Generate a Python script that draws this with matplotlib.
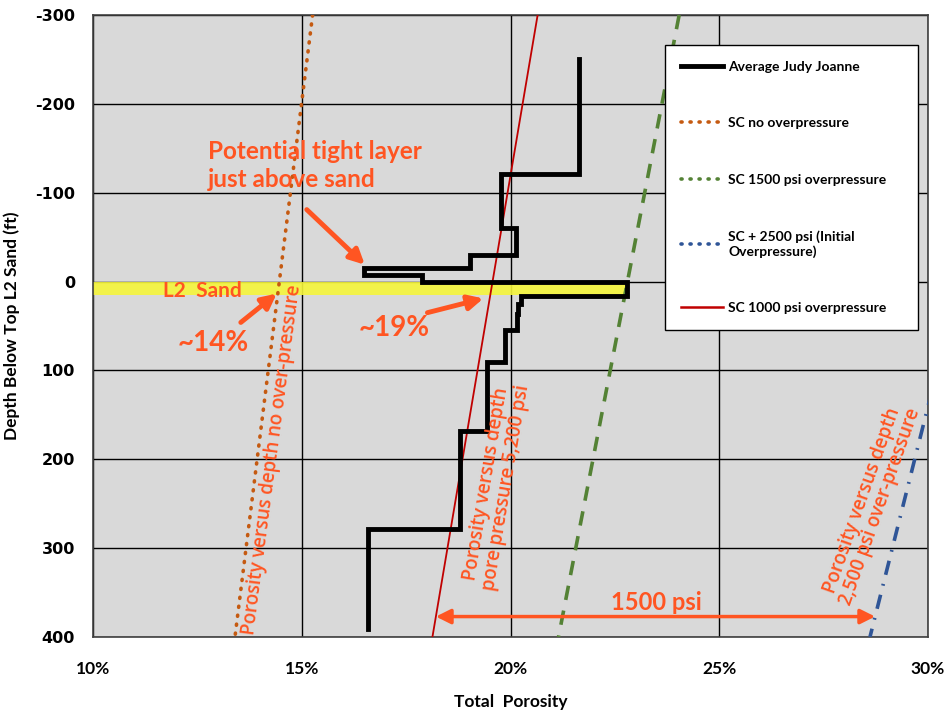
import matplotlib
matplotlib.use('Agg')
import matplotlib.pyplot as plt
from matplotlib.lines import Line2D
from matplotlib.ticker import PercentFormatter, MultipleLocator
import numpy as np

plt.rcParams['axes.unicode_minus'] = False

# Average Judy Joanne log: porosity (%) per interval, interval tops (ft)
avg_tops = [-250, -121, -60, -30, -15, -7, 0, 16, 25, 37, 54, 91, 168, 279]
avg_phi = [21.63, 19.78, 20.14, 19.02, 16.48, 17.87, 22.78, 20.24, 20.18,
           20.15, 19.88, 19.43, 18.80, 16.58]
avg_base = 391

# compaction trends, porosity (%) at depth -300 ft and 400 ft
trend_depth = [-300, 400]
sc_no_op = [15.26, 13.40]
sc_1000 = [20.65, 18.13]
sc_1500 = [24.04, 21.15]
sc_2500 = [32.36, 28.61]

# L2 sand interval
sand_top, sand_base, sand_phi = 0, 15, 22.75

arrow_depth = 377

ORANGE = '#ff5522'
C_NO = '#c55a11'
C_1500 = '#548235'
C_2500 = '#2f5597'
C_1000 = '#c00000'

fig = plt.figure(figsize=(9.48, 7.15), dpi=100)
ax = fig.add_axes([93/948, 1-637/715, 835/948, 622/715])
ax.set_facecolor('#d9d9d9')

# build the stepped log
y_steps = []
for i, top in enumerate(avg_tops):
    bot = avg_tops[i+1] if i + 1 < len(avg_tops) else avg_base
    y_steps += [top, bot]
x_steps = np.repeat(avg_phi, 2)

ax.fill_betweenx([sand_top, sand_base], 10, sand_phi, color='#f5f53a',
                 alpha=0.9, lw=0, zorder=2)

ax.plot(sc_no_op, trend_depth, color=C_NO, lw=2.6, ls=(0, (0.3, 2.2)),
        dash_capstyle='round', zorder=3)
ax.plot(sc_1500, trend_depth, color=C_1500, lw=2.6, ls=(0, (4, 3)), zorder=3)
ax.plot(sc_2500, trend_depth, color=C_2500, lw=2.6,
        ls=(0, (4, 2.6, 0.5, 2.6)), zorder=3)
ax.plot(sc_1000, trend_depth, color=C_1000, lw=1.3, zorder=3)
ax.plot(x_steps, y_steps, color='black', lw=3.5, solid_joinstyle='miter', zorder=4)

ax.set_xlim(10, 30)
ax.set_ylim(400, -300)
ax.xaxis.set_major_locator(MultipleLocator(5))
ax.yaxis.set_major_locator(MultipleLocator(100))
ax.xaxis.set_major_formatter(PercentFormatter(100, decimals=0))
ax.grid(True, color='black', lw=1.0, zorder=1)
ax.set_axisbelow(True)
for s in ax.spines.values():
    s.set_color('#404040')
    s.set_linewidth(1.2)

ax.tick_params(axis='y', length=0, pad=13)
ax.tick_params(axis='x', length=0, pad=17)
for lb in ax.get_yticklabels():
    lb.set_fontfamily('DejaVu Sans')
    lb.set_fontweight('bold')
    lb.set_fontsize(11.5)
for lb in ax.get_xticklabels():
    lb.set_fontfamily('Lato')
    lb.set_fontweight('bold')
    lb.set_fontsize(12.5)

ax.set_xlabel('Total  Porosity', fontfamily='Lato', fontweight='bold',
              fontsize=12.5, va='center')
ax.set_ylabel('Depth Below Top L2 Sand (ft)', fontfamily='Lato',
              fontweight='bold', fontsize=12.5)
ax.xaxis.set_label_coords(0.5, -0.104)
ax.yaxis.set_label_coords(-0.087, 0.5)

# annotations
ax.text(12.75, -131, 'Potential tight layer\njust above sand', color=ORANGE,
        fontfamily='Lato', fontweight='bold', fontsize=17.5, ha='left',
        va='center', linespacing=1.25, zorder=5)
ax.text(11.68, 11, 'L2  Sand', color=ORANGE, fontfamily='Lato',
        fontweight='bold', fontsize=15, ha='left', va='center', zorder=5)
ax.text(12.87, 69, '~14%', color=ORANGE, fontfamily='Lato',
        fontweight='bold', fontsize=20, ha='center', va='center', zorder=5)
ax.text(17.22, 52, '~19%', color=ORANGE, fontfamily='Lato',
        fontweight='bold', fontsize=20, ha='center', va='center', zorder=5)
ax.text(23.5, 361, '1500 psi', color=ORANGE, fontfamily='Lato',
        fontweight='bold', fontsize=17, ha='center', va='center', zorder=5)

arrow_kw = dict(arrowstyle='-|>', color=ORANGE, lw=3.5, mutation_scale=22,
                shrinkA=0, shrinkB=0)
ax.annotate('', xy=(16.51, -19), xytext=(15.12, -81), arrowprops=arrow_kw, zorder=5)
ax.annotate('', xy=(14.40, 13.5), xytext=(13.54, 46), arrowprops=arrow_kw, zorder=5)
ax.annotate('', xy=(19.35, 19), xytext=(18.01, 35), arrowprops=arrow_kw, zorder=5)

x_left = np.interp(arrow_depth, trend_depth, sc_1000)
x_right = np.interp(arrow_depth, trend_depth, sc_2500)
ax.annotate('', xy=(x_right, arrow_depth), xytext=(x_left, arrow_depth),
            arrowprops=dict(arrowstyle='<|-|>', color=ORANGE, lw=2.5,
                            mutation_scale=22, shrinkA=0, shrinkB=0), zorder=5)

rot_kw = dict(color=ORANGE, fontfamily='Open Sans', fontweight=600,
              fontsize=13.5, ha='center', va='center', rotation_mode='anchor',
              zorder=5)
ax.text(14.28, 201, 'Porosity versus depth no over-pressure', rotation=82.5, **rot_kw)
ax.text(19.66, 230, 'Porosity versus depth\npore pressure 5,200 psi',
        rotation=80.5, linespacing=1.0, **rot_kw)
ax.text(28.64, 250, 'Porosity versus depth\n2,500 psi over-pressure',
        rotation=70.5, linespacing=1.0, **rot_kw)

# legend
handles = [
    Line2D([], [], color='black', lw=3.5),
    Line2D([], [], color=C_NO, lw=2.6, ls=(0, (0.3, 2.2)), dash_capstyle='round'),
    Line2D([], [], color=C_1500, lw=2.6, ls=(0, (0.3, 2.2)), dash_capstyle='round'),
    Line2D([], [], color=C_2500, lw=2.6, ls=(0, (0.3, 2.2)), dash_capstyle='round'),
    Line2D([], [], color=C_1000, lw=1.8),
]
labels = ['Average Judy Joanne', 'SC no overpressure',
          'SC 1500 psi overpressure', 'SC + 2500 psi (Initial\nOverpressure)',
          'SC 1000 psi overpressure']
leg = ax.legend(handles, labels, loc='upper left',
                bbox_to_anchor=(0.685, 0.952, 0.303, 0.0), mode='expand',
                borderaxespad=0,
                prop={'family': 'Lato', 'weight': 'bold', 'size': 10},
                handlelength=3.0, handletextpad=0.4, labelspacing=3.2,
                borderpad=1.15, fancybox=False, framealpha=1, edgecolor='black')
leg.get_frame().set_linewidth(1.0)
leg.set_zorder(6)

plt.savefig('out.png', dpi=100)
